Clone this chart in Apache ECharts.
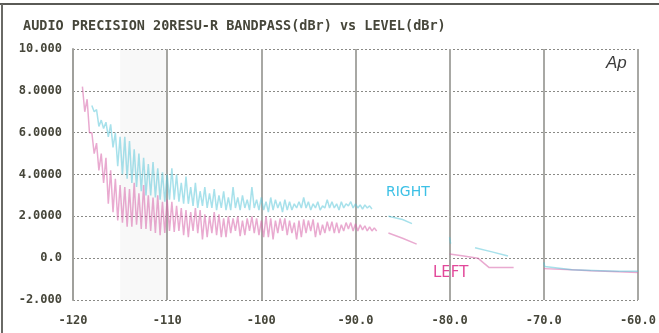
<!DOCTYPE html>
<html><head><meta charset="utf-8">
<script src="https://cdn.jsdelivr.net/npm/echarts@6/dist/echarts.min.js"></script>
<style>html,body{margin:0;padding:0;background:#fff}#c{width:659px;height:333px}</style>
</head><body><div id="c"></div>
<script>
const titleText = 'AUDIO PRECISION 20RESU-R BANDPASS(dBr) vs LEVEL(dBr)';
const xTicks = [-120, -110, -100, -90, -80, -70, -60];
const xTickLabels = ['-120', '-110', '-100', '-90.0', '-80.0', '-70.0', '-60.0'];
const yTicks = [-2, 0, 2, 4, 6, 8, 10];
const yTickLabels = ['-2.000', '0.0', '2.0000', '4.0000', '6.0000', '8.0000', '10.000'];

// noisy low-level region (dBr levels); readings are the high and low of the spread near each level
const levels = [-119,-118.5,-118,-117.5,-117,-116.5,-116,-115.5,-115,-114.5,-114,-113.5,-113,-112.5,-112,-111.5,-111,-110.5,-110,-109.5,-109,-108.5,-108,-107.5,-107,-106.5,-106,-105.5,-105,-104.5,-104,-103.5,-103,-102.5,-102,-101.5,-101,-100.5,-100,-99.5,-99,-98.5,-98,-97.5,-97,-96.5,-96,-95.5,-95,-94.5,-94,-93.5,-93,-92.5,-92,-91.5,-91,-90.5,-90,-89.5,-89,-88.5,-88];
const leftHi = [8.2,7.6,6.0,5.5,5.0,4.8,4.2,3.8,3.5,3.4,3.3,3.6,3.1,3.5,3.0,2.9,3.0,2.7,2.8,2.7,2.5,2.4,2.3,2.2,2.4,2.3,2.1,2.0,2.2,2.1,1.9,2.0,1.9,2.0,1.8,1.9,2.0,1.9,1.8,2.0,1.9,1.8,1.9,1.9,1.8,1.7,1.8,1.85,1.8,1.85,1.7,1.6,1.75,1.75,1.7,1.6,1.7,1.7,1.65,1.6,1.55,1.5,1.45];
const leftLo = [7.0,6.0,5.0,4.2,3.6,2.6,2.2,1.8,1.7,1.5,1.5,1.6,1.4,1.4,1.3,1.2,1.1,1.2,1.3,1.25,1.3,1.1,1.0,1.3,1.2,0.9,1.0,1.2,1.1,1.0,1.0,1.2,1.3,1.05,1.1,1.3,1.2,1.1,1.0,1.0,0.9,1.2,1.3,1.1,1.2,0.9,1.0,1.2,1.3,1.0,1.1,1.2,1.3,1.2,1.2,1.3,1.4,1.3,1.3,1.35,1.3,1.3,1.3];
const rightHi = [null,null,7.3,7.1,6.6,6.5,6.4,6.0,5.8,5.8,5.6,5.2,5.0,4.8,4.5,4.6,4.3,4.1,4.0,4.3,4.0,3.6,3.9,3.4,3.6,3.2,3.4,3.1,3.3,3.0,3.2,2.9,3.4,2.9,3.0,2.8,3.4,2.8,2.9,2.7,2.9,2.8,2.7,2.8,2.7,2.6,2.7,2.9,2.7,2.6,2.7,2.5,2.8,2.7,2.6,2.7,2.6,2.7,2.6,2.55,2.55,2.5,null];
const rightLo = [null,null,7.0,6.3,6.2,5.8,5.3,4.4,4.0,3.8,3.6,3.4,3.2,3.0,3.0,2.9,2.8,2.7,2.8,2.8,2.7,2.6,2.6,2.5,2.4,2.5,2.4,2.4,2.3,2.4,2.3,2.3,2.4,2.3,2.4,2.3,2.4,2.3,2.3,2.2,2.3,2.4,2.2,2.3,2.3,2.4,2.4,2.4,2.3,2.4,2.3,2.4,2.4,2.4,2.3,2.4,2.5,2.4,2.4,2.35,2.4,2.35,null];

// higher-level region
const leftTailLevels = [-87, -86.5, -85, -83.5, -82, -80, -78.5, -77, -75.8, -73.2, -71, -70, -67, -65, -62, -60];
const leftTail = [null, 1.2, 0.95, 0.67, null, 0.2, 0.1, 0.0, -0.45, -0.45, null, -0.5, -0.55, -0.6, -0.65, -0.68];
const rightTailLevels = [-87, -86.5, -85, -84, -82, -80, -79.9, -78, -77.3, -75.5, -73.8, -71, -70, -69.9, -67, -64, -62, -60];
const rightTail = [null, 2.0, 1.85, 1.65, null, 1.0, 0.7, null, 0.5, 0.3, 0.1, null, -0.2, -0.4, -0.55, -0.6, -0.63, -0.62];

// high reading at each level, low reading a quarter dB later
function spread(xs, lo, hi){
  const out = [];
  xs.forEach((x, i) => {
    if (lo[i] == null) { out.push([x, null]); return; }
    out.push([x, hi[i]], [x + 0.25, lo[i]]);
  });
  return out;
}
function pairs(xs, ys){ return xs.map((x,i)=>[x, ys[i]]); }
const leftData = spread(levels, leftLo, leftHi).concat([[-87.5, null]], pairs(leftTailLevels, leftTail));
const rightData = spread(levels, rightLo, rightHi).concat([[-87.5, null]], pairs(rightTailLevels, rightTail));

const mono = 'DejaVu Sans Mono';
const chart = echarts.init(document.getElementById('c'), null, {renderer:'canvas'});
chart.setOption({
  animation: false,
  backgroundColor: '#ffffff',
  grid: {left: 73, right: 21, top: 49, bottom: 33},
  title: {text: titleText, left: 18, top: 14, textStyle: {fontFamily: mono, fontWeight: 'bold', fontSize: 13.5, color: '#46463a'}},
  xAxis: {
    type: 'value', min: -120, max: -60, interval: 10,
    axisLine: {show: false}, axisTick: {show: false},
    axisLabel: {margin: 15, fontFamily: mono, fontWeight: 'bold', fontSize: 12, color: '#46463a',
      formatter: v => xTickLabels[xTicks.indexOf(Math.round(v))] || ''},
    splitLine: {show: true, lineStyle: {color: '#a8a8a4', width: 2, type: 'solid'}}
  },
  yAxis: {
    type: 'value', min: -2, max: 10, interval: 2,
    axisLine: {show: true, lineStyle: {color: '#a0a09c', width: 2}}, axisTick: {show: false},
    axisLabel: {margin: 11, fontFamily: mono, fontWeight: 'bold', fontSize: 12, color: '#46463a',
      formatter: v => yTickLabels[yTicks.indexOf(Math.round(v))] || ''},
    splitLine: {show: true, lineStyle: {color: '#8a8a86', width: 1, type: [2, 2]}}
  },
  graphic: [
    {type: 'line', shape: {x1: 0, y1: 4, x2: 659, y2: 4}, style: {stroke: '#5a5a56', lineWidth: 2}, silent: true},
    {type: 'line', shape: {x1: 2, y1: 4, x2: 2, y2: 333}, style: {stroke: '#6a6a66', lineWidth: 2}, silent: true},
    {type: 'text', left: 606, top: 55, style: {text: 'Ap', font: 'italic 17px "Liberation Sans"', fill: '#3c3c3c'}},
    {type: 'text', left: 386, top: 185, style: {text: 'RIGHT', font: '14px "DejaVu Sans"', fill: '#3cc0e6'}},
    {type: 'text', left: 433, top: 266, style: {text: 'LEFT', font: '15px "DejaVu Sans"', fill: '#e2489a'}}
  ],
  series: [
    {name: 'LEFT', type: 'line', data: leftData, showSymbol: false, connectNulls: false,
      lineStyle: {color: 'rgba(215,100,170,0.55)', width: 1.5},
      markArea: {silent: true, itemStyle: {color: 'rgba(120,120,120,0.05)'}, data: [[{xAxis: -115}, {xAxis: -110}]]}},
    {name: 'RIGHT', type: 'line', data: rightData, showSymbol: false, connectNulls: false,
      lineStyle: {color: 'rgba(80,195,215,0.5)', width: 1.5}}
  ]
});
</script></body></html>
